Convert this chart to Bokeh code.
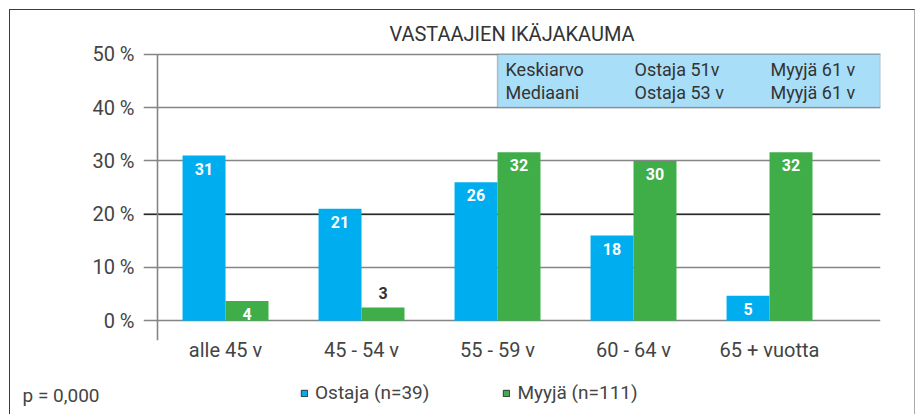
from bokeh.plotting import figure
from bokeh.layouts import column
from bokeh.models import (Range1d, FixedTicker, Span, BoxAnnotation,
                          Legend, LegendItem, ColumnDataSource)
from bokeh.transform import dodge
from bokeh.core.properties import value
from bokeh.embed import file_html
from bokeh.resources import INLINE

# ---------------- data ----------------
categories = ["alle 45 v", "45 - 54 v", "55 - 59 v", "60 - 64 v", "65 + vuotta"]
ostaja_heights = [31, 21, 26, 16, 4.7]
ostaja_labels = ["31", "21", "26", "18", "5"]
myyja_heights = [3.7, 2.5, 31.6, 30, 31.6]
myyja_labels = ["4", "3", "32", "30", "32"]
series_names = ["Ostaja (n=39)", "Myyjä (n=111)"]
y_ticks = [0, 10, 20, 30, 40, 50]
y_tick_labels = ["0 %", "10 %", "20 %", "30 %", "40 %", "50 %"]
title_text = "VASTAAJIEN IKÄJAKAUMA"
stats_rows = [["Keskiarvo", "Ostaja 51v", "Myyjä 61 v"],
              ["Mediaani", "Ostaja 53 v", "Myyjä 61 v"]]
p_value_text = "p = 0,000"

# ---------------- style ----------------
FONT = "Roboto"
BLUE = "#00AEEF"
GREEN = "#3FAE49"
BOXBLUE = "#A9DEF8"
TEXT = "#444444"
GRID = "#858585"
BAR_W = 0.316
W = 904

xs = list(range(len(categories)))

p = figure(width=W, height=365, output_backend="svg", toolbar_location=None,
           x_range=Range1d(-0.603, 4.816), y_range=Range1d(-3.70, 50.34),
           min_border_left=133, min_border_right=34, min_border_top=42,
           min_border_bottom=35, outline_line_color=None)

p.title.text = title_text
p.title.align = "center"
p.title.text_font = FONT
p.title.text_font_style = "normal"
p.title.text_font_size = "20px"
p.title.text_color = "#333333"
p.title.standoff = 13

# grid
p.xgrid.visible = False
p.ygrid.ticker = FixedTicker(ticks=y_ticks)
p.ygrid.grid_line_color = GRID
p.ygrid.grid_line_width = 1.6
p.add_layout(Span(location=20, dimension="width", line_color="#2a2a2a",
                  line_width=1.6, level="underlay"))

# axes
for ax in (p.xaxis[0], p.yaxis[0]):
    ax.axis_line_color = None
    ax.major_tick_line_color = None
    ax.minor_tick_line_color = None
    ax.major_tick_out = 0
    ax.major_tick_in = 0
    ax.major_label_text_font = FONT
    ax.major_label_text_font_size = "20px"
    ax.major_label_text_color = TEXT

p.yaxis.ticker = FixedTicker(ticks=y_ticks)
p.yaxis.major_label_overrides = {t: l for t, l in zip(y_ticks, y_tick_labels)}
p.yaxis.major_label_standoff = 9

p.xaxis.ticker = FixedTicker(ticks=xs)
p.xaxis.major_label_overrides = {i: c for i, c in zip(xs, categories)}
p.xaxis.major_label_standoff = -3

# vertical axis line between frame edge and first group
p.segment(x0=[-0.5], y0=[p.y_range.start], x1=[-0.5], y1=[y_ticks[-1]],
          line_color=GRID, line_width=1.6)

# stats box
p.add_layout(BoxAnnotation(left=2, bottom=40, top=50, fill_color=BOXBLUE, fill_alpha=1,
                           line_color="#555555", line_width=1.5, level="underlay"))

# bars
src = ColumnDataSource(dict(x=xs, o=ostaja_heights, m=myyja_heights))
p.vbar(x=dodge("x", -BAR_W / 2, range=p.x_range), top="o", width=BAR_W, bottom=0,
       source=src, fill_color=BLUE, line_color=None)
p.vbar(x=dodge("x", BAR_W / 2, range=p.x_range), top="m", width=BAR_W, bottom=0,
       source=src, fill_color=GREEN, line_color=None)

# bar labels
def label_source(heights, labels, shift):
    inside = [h >= 3 for h in heights]
    return ColumnDataSource(dict(
        x=[i + shift for i in xs], y=heights, t=labels,
        c=["white" if ins else "#333333" for ins in inside],
        yo=[13 if ins else -14 for ins in inside]))

for hs, ls, sh in [(ostaja_heights, ostaja_labels, -BAR_W / 2),
                   (myyja_heights, myyja_labels, BAR_W / 2)]:
    p.text(x="x", y="y", text="t", source=label_source(hs, ls, sh),
           text_color="c", y_offset="yo", text_align="center",
           text_baseline="middle", text_font=value(FONT),
           text_font_style="bold", text_font_size="16px")

# stats text
col_x = [2, 3, 4]
col_off = [8, 1, 1]
row_off = [-11.5, 11.5]
for r, row in enumerate(stats_rows):
    p.text(x=col_x, y=[45] * 3, text=row, x_offset=col_off, y_offset=row_off[r],
           text_align="left", text_baseline="middle", text_font=value(FONT),
           text_font_size="18px", text_color="#333333")

# ---------------- footer strip: p-value (as axis label) + legend ----------------
f = figure(width=W, height=39, output_backend="svg", toolbar_location=None,
           x_axis_location=None, y_axis_location="left", min_border=0,
           outline_line_color=None, x_range=Range1d(0, 1), y_range=Range1d(0, 1))
f.grid.visible = False
f.yaxis.ticker = FixedTicker(ticks=[0.5])
f.yaxis.major_label_overrides = {0.5: p_value_text}
f.yaxis.axis_line_color = None
f.yaxis.major_tick_line_color = None
f.yaxis.minor_tick_line_color = None
f.yaxis.major_tick_out = 0
f.yaxis.major_tick_in = 0
f.yaxis.major_label_standoff = 44
f.yaxis.major_label_text_font = FONT
f.yaxis.major_label_text_font_size = "19px"
f.yaxis.major_label_text_color = TEXT

fsrc = ColumnDataSource(dict(x=xs, o=ostaja_heights, m=myyja_heights))
d1 = f.vbar(x="x", top="o", width=0.1, source=fsrc, fill_color=BLUE,
            line_color="#333333", line_width=1, visible=False)
d2 = f.vbar(x="x", top="m", width=0.1, source=fsrc, fill_color=GREEN,
            line_color="#333333", line_width=1, visible=False)
legend = Legend(items=[LegendItem(label=series_names[0], renderers=[d1]),
                       LegendItem(label=series_names[1], renderers=[d2])],
                orientation="horizontal", location=(157, 10),
                glyph_width=8, glyph_height=8, label_standoff=7, spacing=73,
                padding=0, margin=0, border_line_color=None, background_fill_alpha=0,
                inactive_fill_alpha=0,
                label_text_font=FONT, label_text_font_size="19px",
                label_text_color=TEXT, label_height=20)
f.add_layout(legend, "center")

layout = column(p, f, spacing=0)
layout.styles = {"margin-left": "9px", "margin-top": "9px",
                 "border-left": "1px solid #3a3a3a", "border-top": "1px solid #3a3a3a",
                 "border-right": "1px solid #aaaaaa"}

open("out.html", "w").write(file_html(layout, INLINE))
